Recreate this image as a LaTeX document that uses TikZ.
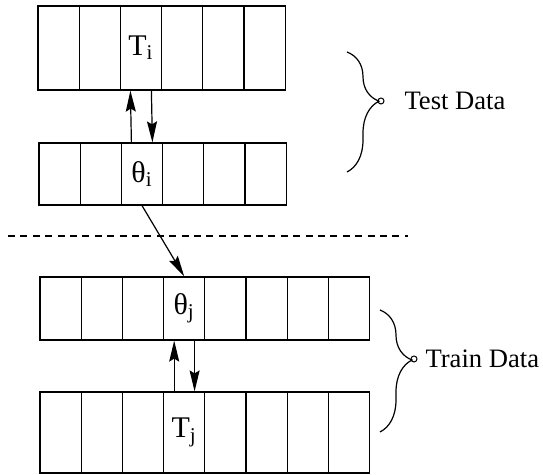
\documentclass[tikz,border=0pt]{standalone}
\usepackage{fontspec}
\setmainfont{Liberation Serif}
\usetikzlibrary{arrows.meta,decorations.pathreplacing,positioning}

\tikzset{
  cell/.style={draw, line width=0.6pt, minimum width=20.6pt, inner sep=0pt},
  flow/.style={line width=0.6pt, -{Stealth[length=10.5pt,width=5pt,inset=1.5pt]}},
  databrace/.style={line width=0.6pt, decorate, decoration={brace, amplitude=16pt, aspect=0.41}},
  tipdot/.style={circle, draw, line width=0.5pt, inner sep=0pt, minimum size=3pt},
  datalabel/.style={font=\fontsize{13.3}{16}\selectfont}
}

\begin{document}
\begin{tikzpicture}[x=0.5pt, y=-0.5pt, font=\fontsize{15}{18}\selectfont]
  \useasboundingbox (0,0) rectangle (543,475);

  % test data
  \foreach \k in {1,...,6}
    \node[cell, minimum height=42pt] (ti\k) at ({38+41.2*(\k-0.5)}, 48)
      {\ifnum\k=3 T\textsubscript{i}\fi};
  \foreach \k in {1,...,6}
    \node[cell, minimum height=31pt] (thi\k) at ({39+41.2*(\k-0.5)}, 174)
      {\ifnum\k=3 θ\textsubscript{i}\fi};

  % train data
  \foreach \k in {1,...,8}
    \node[cell, minimum height=31.5pt] (thj\k) at ({40+41.2*(\k-0.5)}, 308.5)
      {\ifnum\k=4 θ\textsubscript{j}\fi};
  \foreach \k in {1,...,8}
    \node[cell, minimum height=40.5pt] (tj\k) at ({40+41.2*(\k-0.5)}, 432.5)
      {\ifnum\k=4 T\textsubscript{j}\fi};

  \draw[flow] ([xshift=-5.3pt]thi3.north) -- ([xshift=-5.3pt]ti3.south);
  \draw[flow] ([xshift=5.2pt]ti3.south) -- ([xshift=5.2pt]thi3.north);
  \draw[flow] (thi3.south) -- (thj4.north);
  \draw[flow] ([xshift=-5pt]tj4.north) -- ([xshift=-5pt]thj4.south);
  \draw[flow] ([xshift=5.2pt]thj4.south) -- ([xshift=5.2pt]tj4.north);

  \coordinate (cutl) at (8,236);
  \coordinate (cutr) at (408,236);
  \draw[line width=0.6pt, dash pattern=on 3.5pt off 2.7pt] (cutl) -- (cutr);

  % braces
  \draw[databrace] (347,52) -- (347,172);
  \node[tipdot] (testtip) at (381,101) {};
  \node[datalabel, right=6.5pt of testtip] (testlbl) {Test Data};

  \draw[databrace] (380,310) -- (380,432);
  \node[tipdot] (traintip) at (414,359) {};
  \node[datalabel, right=0.5pt of traintip] (trainlbl) {Train Data};
\end{tikzpicture}
\end{document}
